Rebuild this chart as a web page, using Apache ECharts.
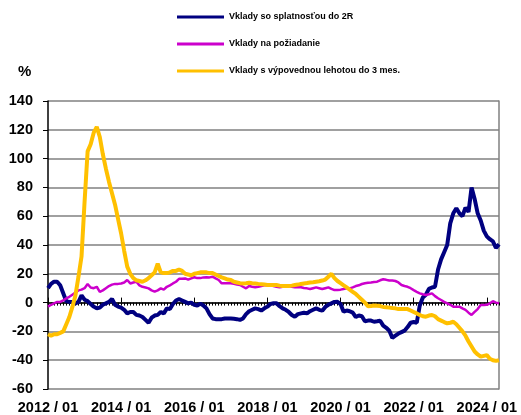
<!DOCTYPE html>
<html>
<head>
<meta charset="utf-8">
<script src="https://cdn.jsdelivr.net/npm/echarts@6/dist/echarts.min.js"></script>
<style>html,body{margin:0;padding:0;background:#fff}#c{width:521px;height:415px}</style>
</head>
<body>
<div id="c"></div>
<script>
// Categories: monthly 2012/01 .. 2024/05
const startYear = 2012, monthCount = 149;
const categories = [];
for (let i = 0; i < monthCount; i++) {
  const y = startYear + Math.floor(i / 12), m = (i % 12) + 1;
  categories.push(y + ' / ' + (m < 10 ? '0' + m : m));
}
const seriesNames = ['Vklady so splatnosťou do 2R', 'Vklady na požiadanie', 'Vklady s výpovednou lehotou do 3 mes.'];
const yTicks = [-60, -40, -20, 0, 20, 40, 60, 80, 100, 120, 140];

const blue = [
10,13,14.5,14.5,12,6.5,1,0.5,0.5,-0.5,0.5,5,2,1,-1,-2.8,-4,-3.5,-1.5,-0.5,
0.5,2.5,-1.5,-2.8,-3.5,-5,-7.5,-6.5,-6.5,-8.5,-9,-10,-12,-14,-10.5,-9,-8.5,-6.5,-7.5,-4,
-4.5,-1,1.5,2.5,1.5,0.5,-0.5,0,-1.5,-2,-0.7,-2,-4,-8,-11,-11.5,-11.5,-11.5,-11,-11,
-11,-11.2,-11.5,-12,-11,-8,-6,-5,-4,-4.5,-5.5,-4,-2.8,-1,-0.5,-0.5,-2.5,-4,-5,-6.5,
-8.6,-9.8,-8,-7.5,-7,-7.5,-6,-5,-4,-5,-5.6,-3,-1.5,-0.5,0.5,0.6,-1,-6.3,-5.5,-6,
-7,-10,-9,-9.5,-13,-12.5,-12.5,-13.3,-13,-12.6,-16,-17.5,-19.5,-24.5,-23,-21.5,-20.5,-19.5,-17,-14,
-13.5,-14,-2,3.5,5.5,9.5,10.5,11,23,30,35,40,55,62,65.5,62,60,66,63,80,
72,62,57,50,46,44,42.5,38,40.5];

const pink = [
-2.8,-1.5,-0.5,0.5,0.5,1.5,3,4,5.5,7,8.5,9,10,12.9,10.5,10,11,7.5,8.5,10,
11.5,12.5,13,13,13.3,14,15.7,13.3,14,14.5,12,11,10.5,9.9,8.5,7.6,8.5,9.9,9,11,
12,13.3,14.5,16.5,16.5,16.8,16,16.8,17.6,17,17,17.5,17.6,17.5,18,16.8,15.7,13.4,13.4,13.4,
13.4,13,12.5,12.2,11,9.9,11.5,11,10.6,11,11.5,12,12.2,12,11.5,11,10.6,11,11.5,11.5,
11,10.6,10.6,10.6,10.2,9.9,9.4,10,10.6,10,9.4,10,10.6,9.5,8.7,8.7,9,9.4,9.9,9.9,
10.6,11.5,12,12.9,13.4,13.8,14,14.3,14.5,15.5,16.2,15.8,15.3,15.3,15,14,12.2,11.5,11,10,
8.7,7.5,6.4,5.8,5.3,5.8,6.4,4.5,3,1.8,0.5,-0.5,-1.5,-2.8,-2.8,-2.8,-4,-5.1,-7,-8.6,
-6.5,-4.5,-1.7,-1.7,-1.5,-0.5,1,0,-0.5];

const yellow = [
-22,-23,-22,-22,-21,-20,-15,-10,-3,5,18,32,70,105,110,118,122,115,103,93,
84,76,68,58,48,36,25,20,17,15.5,15,14.5,15.5,17,19,21,27,21,20.5,20.5,
21,22,22,23,22,20,19.5,19,20,20.5,21,21,21,20.5,20.5,19.5,18.5,17.5,16.8,16,
15.7,14.5,14,13.5,13.3,13.5,13.8,13.5,13.3,13,12.8,12.5,12.2,12.2,12.2,12.2,11.8,11.5,11.5,11.5,
11.8,12.2,12.5,12.9,13.3,13.6,14,14.2,14.5,14.8,15.3,16,18,20,17,15,13.5,12,10.5,9,
7.5,6,4,2,0,-2.5,-2.4,-2,-2.2,-2.4,-3,-3.2,-3.5,-3.8,-4,-4.5,-4.5,-4.5,-4.5,-5.5,
-6.5,-7.5,-8.6,-9.5,-9.8,-9,-8.6,-9.5,-11.5,-12.5,-13.5,-14.4,-14,-13.3,-15,-17.5,-20,-23,-27,-30.5,
-34,-36,-37.5,-37,-36.5,-39,-40,-40.5,-40];

const colors = ['#000080', '#CC00CC', '#FFC000'];
const widths = [4, 2.5, 4];
const dataSets = [blue, pink, yellow];

const font = 'Arial, "Liberation Sans", sans-serif';
const chart = echarts.init(document.getElementById('c'), null, {renderer: 'canvas'});
chart.setOption({
  animation: false,
  backgroundColor: '#fff',
  grid: {left: 48, right: 22, top: 101, bottom: 26, containLabel: false},
  legend: {
    orient: 'vertical', left: 172, top: 6, itemGap: 15,
    itemWidth: 47, itemHeight: 3, icon: 'rect',
    textStyle: {fontFamily: font, fontSize: 9, fontWeight: 'bold', color: '#000', lineHeight: 12},
    data: seriesNames
  },
  graphic: [{type: 'text', left: 18, top: 64, style: {text: '%', fontFamily: font, fontSize: 15, fontWeight: 'bold', fill: '#000'}}],
  xAxis: [{
    type: 'category', data: categories, boundaryGap: false, position: 'bottom',
    axisLine: {lineStyle: {color: '#000', width: 1.5}},
    axisTick: {interval: 23, inside: true, length: 5, lineStyle: {color: '#000'}},
    axisLabel: {interval: 23, margin: 11, fontFamily: font, fontSize: 14.5, fontWeight: 'bold', color: '#000'},
    splitLine: {show: false}
  }, {
    type: 'category', data: categories, boundaryGap: false, position: 'bottom',
    axisLine: {show: false},
    axisTick: {interval: 0, length: 3, lineStyle: {color: '#000'}},
    axisLabel: {show: false}, splitLine: {show: false}
  }],
  yAxis: [{
    type: 'value', min: yTicks[0], max: yTicks[yTicks.length - 1], interval: 20,
    axisLine: {show: true, lineStyle: {color: '#000', width: 1.5}},
    axisTick: {show: true, length: 5, lineStyle: {color: '#000'}},
    axisLabel: {margin: 15, fontFamily: font, fontSize: 14.5, fontWeight: 'bold', color: '#000'},
    splitLine: {lineStyle: {color: '#808080', width: 1.5}}
  }, {
    type: 'value', min: yTicks[0], max: yTicks[yTicks.length - 1], interval: 20, position: 'right',
    axisLine: {show: true, lineStyle: {color: '#808080', width: 1.5}},
    axisTick: {show: false}, axisLabel: {show: false}, splitLine: {show: false}
  }],
  series: dataSets.map((d, i) => ({
    name: seriesNames[i], type: 'line', data: d, xAxisIndex: 0, yAxisIndex: 0,
    showSymbol: false, symbol: 'none', smooth: false,
    lineStyle: {color: colors[i], width: widths[i]}, itemStyle: {color: colors[i]}
  }))
});
</script>
</body>
</html>
